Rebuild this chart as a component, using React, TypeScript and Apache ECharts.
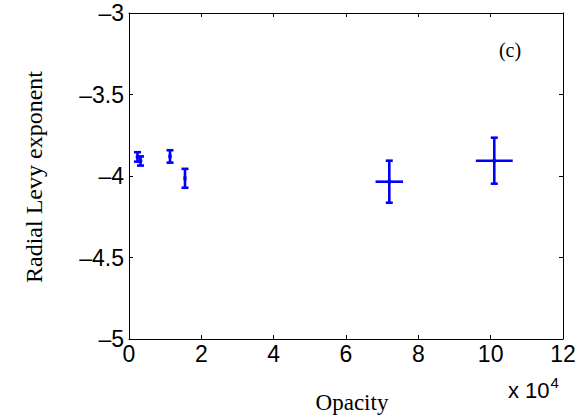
import React, { useEffect, useRef } from "react";
import * as echarts from "echarts";

const opacity = [2350, 3180, 11340, 15480, 71970, 101000];
const exponent = [-3.883, -3.908, -3.88, -4.014, -4.035, -3.906];
const exponentErr = [0.029, 0.028, 0.038, 0.058, 0.129, 0.141];
const opacityErr = [500, 500, 400, 300, 3800, 5100];

const xTicks = [0, 2, 4, 6, 8, 10, 12];
const yTicks = [-5, -4.5, -4, -3.5, -3];

const BLUE = "#0000ff";

export default function App() {
  const ref = useRef<HTMLDivElement>(null);
  useEffect(() => {
    const chart = echarts.init(ref.current!, null, { renderer: "svg" });
    const data = opacity.map((x, i) => [x, exponent[i], opacityErr[i], exponentErr[i]]);
    const sans = "Liberation Sans, Arial, sans-serif";
    const serif = "Liberation Serif, Times New Roman, serif";
    const axisCommon = {
      axisLine: { show: true, onZero: false, lineStyle: { color: "#000", width: 1 } },
      axisTick: { show: true, inside: true, length: 4, lineStyle: { color: "#000", width: 1 } },
      splitLine: { show: false },
    };
    chart.setOption({
      animation: false,
      backgroundColor: "#fff",
      grid: { left: 129, right: 25, top: 13, bottom: 76, show: false },
      xAxis: [
        {
          type: "value",
          min: 0,
          max: 120000,
          interval: 20000,
          position: "bottom",
          ...axisCommon,
          axisLabel: {
            color: "#000",
            fontFamily: sans,
            fontSize: 23,
            margin: 3,
            formatter: (v: number) => String(xTicks[Math.round(v / 20000)] ?? v / 10000),
          },
        },
        {
          type: "value",
          min: 0,
          max: 120000,
          interval: 20000,
          position: "top",
          ...axisCommon,
          axisLabel: { show: false },
        },
      ],
      yAxis: [
        {
          type: "value",
          min: -5,
          max: -3,
          interval: 0.5,
          position: "left",
          ...axisCommon,
          axisLabel: {
            color: "#000",
            fontFamily: sans,
            fontSize: 23,
            margin: 5,
            formatter: (v: number) => {
              const t = yTicks.find((y) => Math.abs(y - v) < 1e-6) ?? v;
              return String(t).replace("-", "\u2013");
            },
          },
        },
        {
          type: "value",
          min: -5,
          max: -3,
          interval: 0.5,
          position: "right",
          ...axisCommon,
          axisLabel: { show: false },
        },
      ],
      series: [
        {
          type: "custom",
          xAxisIndex: 0,
          yAxisIndex: 0,
          data,
          renderItem: (params: any, api: any) => {
            const x = api.value(0);
            const y = api.value(1);
            const ex = api.value(2);
            const ey = api.value(3);
            const c = api.coord([x, y]);
            const top = api.coord([x, y + ey]);
            const bot = api.coord([x, y - ey]);
            const left = api.coord([x - ex, y]);
            const right = api.coord([x + ex, y]);
            const cap = 3.5;
            const style = { stroke: BLUE, lineWidth: 2.6, fill: "none" };
            return {
              type: "group",
              children: [
                { type: "line", shape: { x1: top[0], y1: top[1], x2: bot[0], y2: bot[1] }, style },
                { type: "line", shape: { x1: top[0] - cap, y1: top[1], x2: top[0] + cap, y2: top[1] }, style },
                { type: "line", shape: { x1: bot[0] - cap, y1: bot[1], x2: bot[0] + cap, y2: bot[1] }, style },
                { type: "line", shape: { x1: left[0], y1: left[1], x2: right[0], y2: right[1] }, style },
                { type: "line", shape: { x1: c[0] - 1.5, y1: c[1], x2: c[0] + 1.5, y2: c[1] }, style: { ...style, lineWidth: 4 } },
              ],
            };
          },
        },
      ],
      graphic: [
        {
          type: "text",
          x: 34,
          y: 177,
          rotation: Math.PI / 2,
          style: {
            text: "Radial Levy exponent",
            font: `24px ${serif}`,
            fill: "#000",
            align: "center",
            verticalAlign: "middle",
          },
        },
        {
          type: "text",
          x: 352,
          y: 402,
          style: {
            text: "Opacity",
            font: `23px ${serif}`,
            fill: "#000",
            align: "center",
            verticalAlign: "middle",
          },
        },
        {
          type: "text",
          x: 508,
          y: 386,
          style: {
            text: "{a|x 10}{b|4}",
            fill: "#000",
            align: "left",
            verticalAlign: "middle",
            rich: {
              a: { fontFamily: sans, fontSize: 22, fill: "#000", color: "#000", padding: [9, 0, 0, 0] },
              b: { fontFamily: sans, fontSize: 15, fill: "#000", color: "#000", padding: [0, 0, 8, 1] },
            },
          },
        },
        {
          type: "text",
          x: 510,
          y: 50,
          style: {
            text: "(c)",
            font: `20px ${serif}`,
            fill: "#000",
            align: "center",
            verticalAlign: "middle",
          },
        },
      ],
    });
    return () => chart.dispose();
  }, []);
  return <div ref={ref} style={{ width: 588, height: 415, position: "absolute", left: 0, top: 0 }} />;
}
